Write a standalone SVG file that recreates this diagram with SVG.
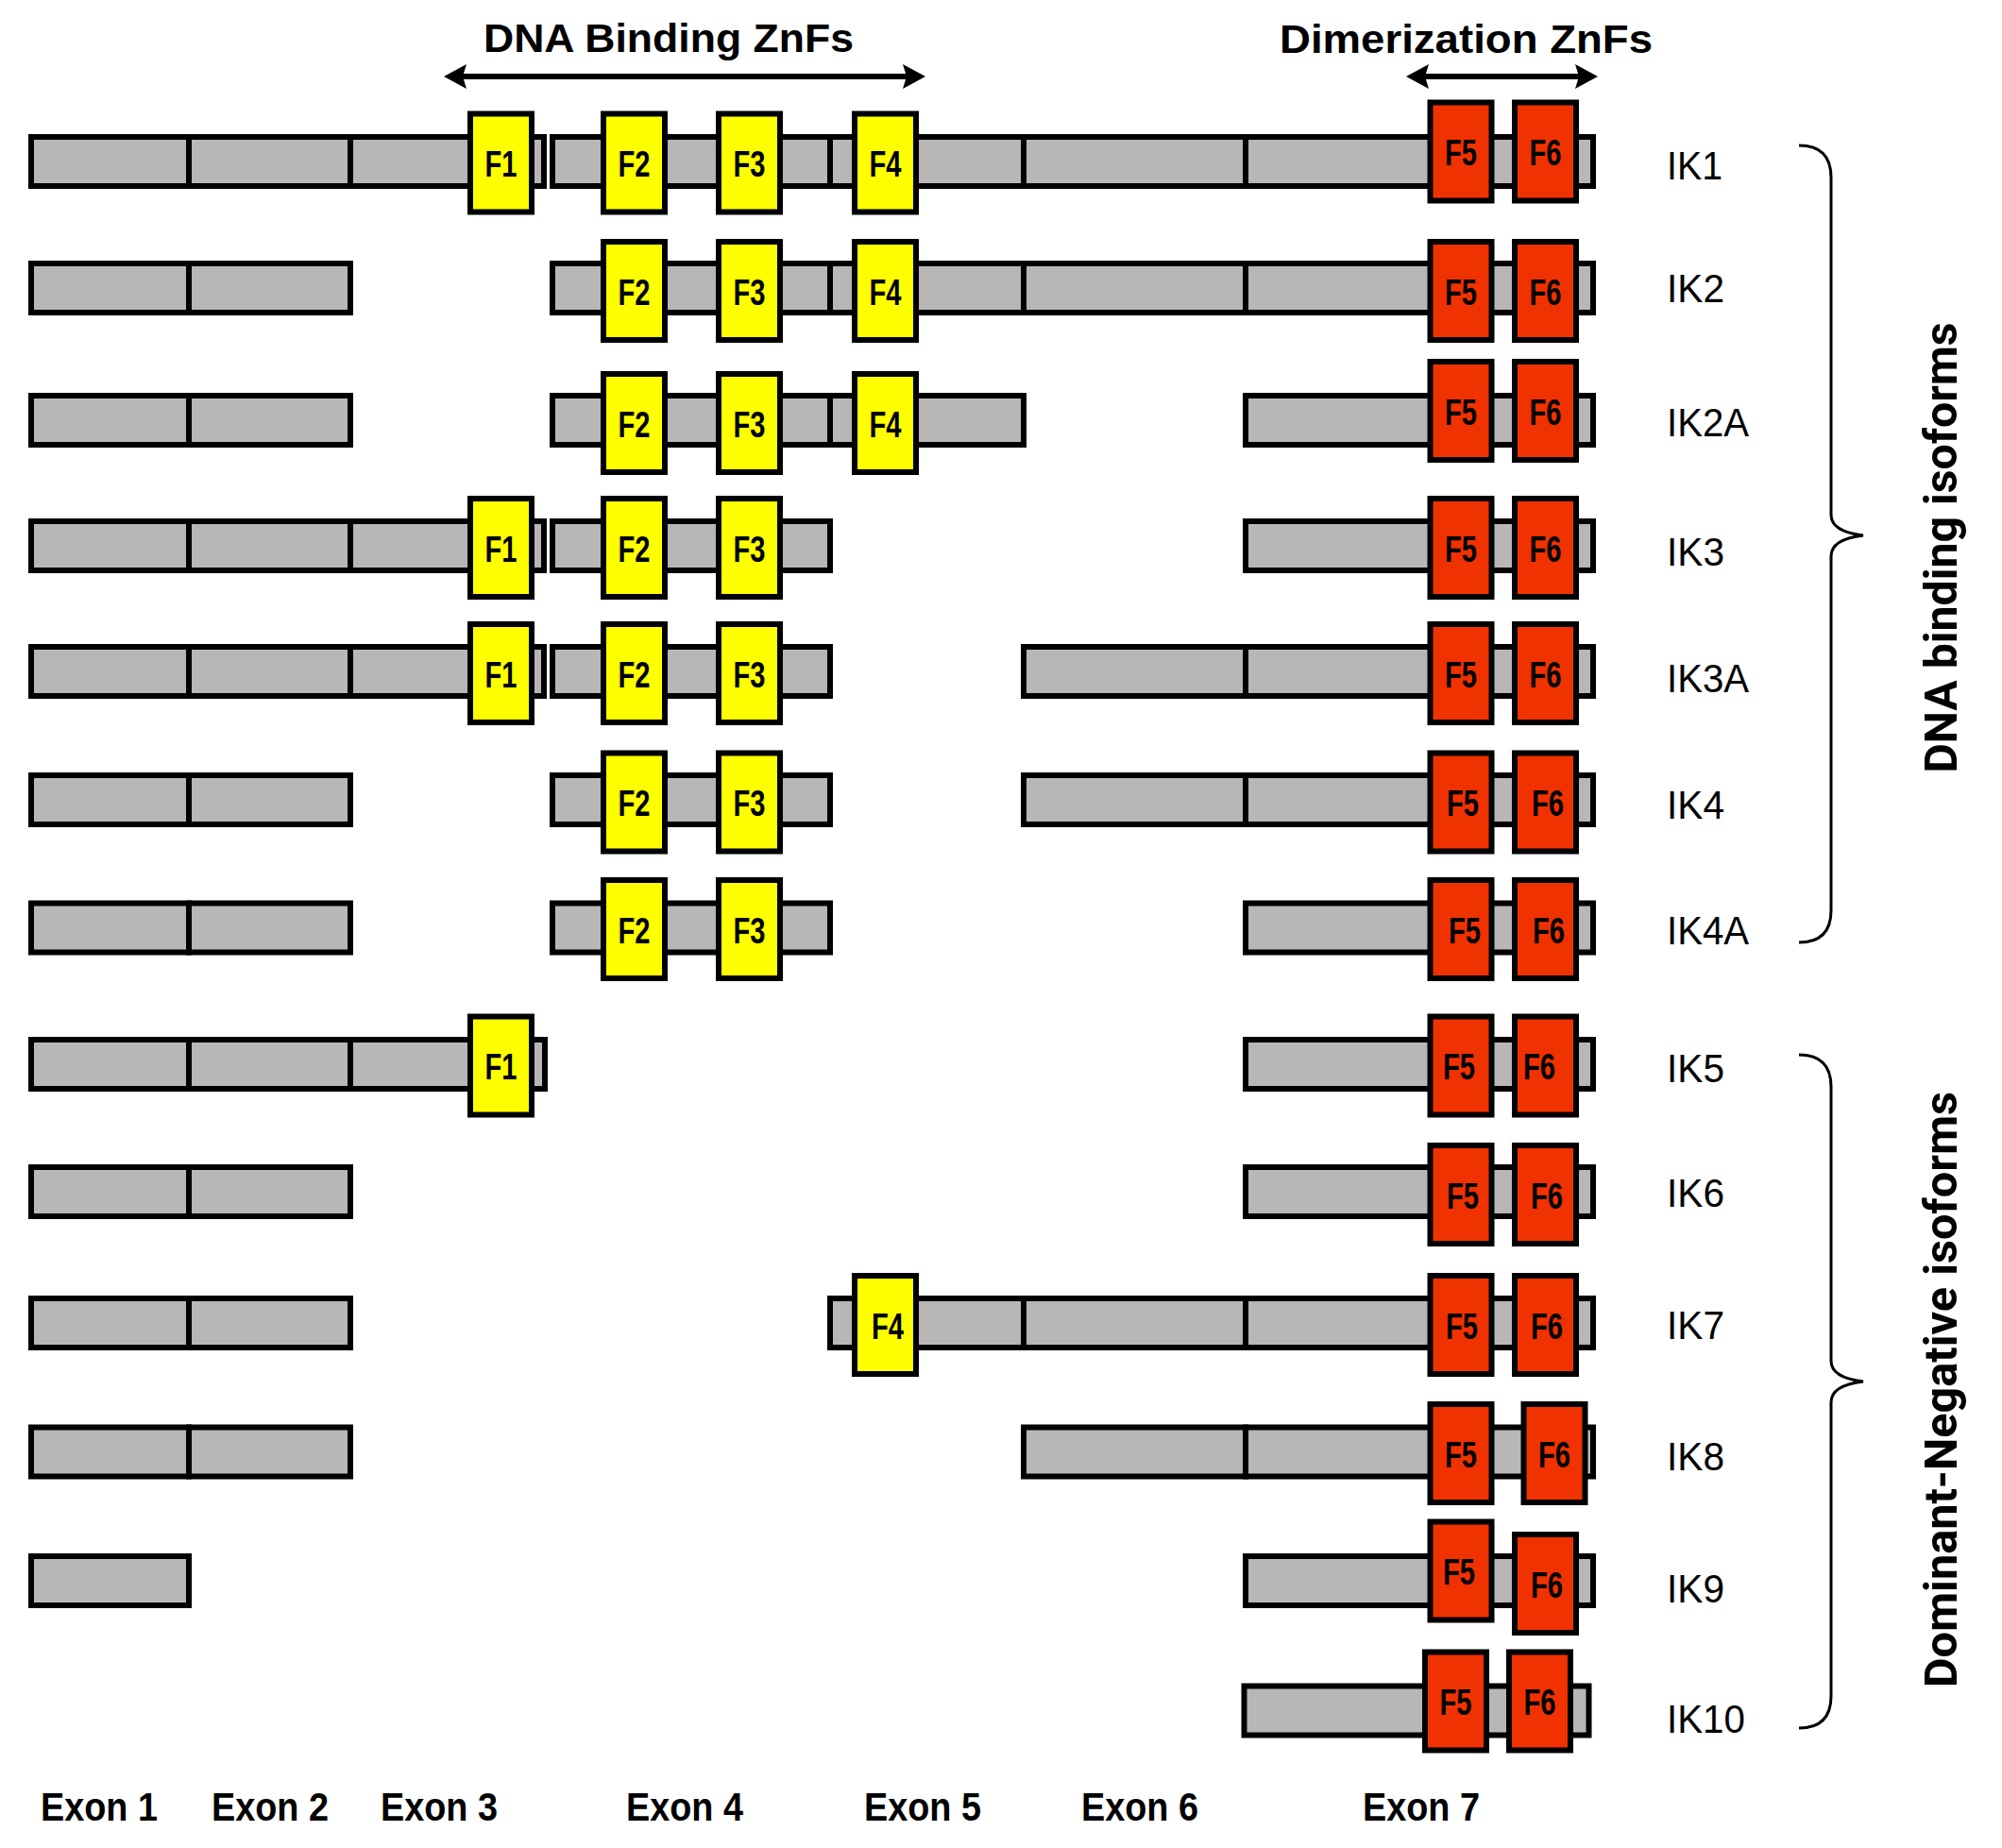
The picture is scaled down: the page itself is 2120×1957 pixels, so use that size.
<svg xmlns="http://www.w3.org/2000/svg" width="2120" height="1957" viewBox="0 0 2120 1957">
<style>
.ex{fill:#b7b7b7;stroke:#000;stroke-width:6}
.zy{fill:#ffff00;stroke:#000;stroke-width:6}
.zr{fill:#f03200;stroke:#000;stroke-width:6}
.fl{font-family:"Liberation Sans",Arial,sans-serif;font-weight:bold;font-size:39px;fill:#000;text-anchor:middle}
.lb{font-family:"Liberation Sans",Arial,sans-serif;font-size:43px;fill:#000}
.hd{font-family:"Liberation Sans",Arial,sans-serif;font-weight:bold;font-size:43px;fill:#000}
.xl{font-family:"Liberation Sans",Arial,sans-serif;font-weight:bold;font-size:43px;fill:#000}
.vt{font-family:Roboto,"Liberation Sans",sans-serif;font-weight:bold;font-size:48px;fill:#000;text-anchor:middle}
.br{fill:none;stroke:#000;stroke-width:3}
.ar{fill:none;stroke:#000;stroke-width:6}
</style>
<defs>
<marker id="ah" markerUnits="userSpaceOnUse" markerWidth="26" markerHeight="28" refX="12" refY="13" orient="auto-start-reverse" viewBox="0 0 26 26">
<path d="M0,0 L24,13 L0,26 L4,13 z" fill="#000"/>
</marker>
</defs>
<rect width="2120" height="1957" fill="#fff"/>

<g id="headings">
<text class="hd" x="512" y="55" textLength="392" lengthAdjust="spacingAndGlyphs">DNA Binding ZnFs</text>
<text class="hd" x="1355" y="56" textLength="395" lengthAdjust="spacingAndGlyphs">Dimerization ZnFs</text>
</g>

<g id="connectors">
<line class="ar" x1="482" y1="81" x2="968" y2="81" marker-start="url(#ah)" marker-end="url(#ah)"/>
<line class="ar" x1="1501" y1="81" x2="1680" y2="81" marker-start="url(#ah)" marker-end="url(#ah)"/>
</g>

<g id="IK1">
<rect class="ex" x="33" y="145" width="167" height="52"/>
<rect class="ex" x="200" y="145" width="171" height="52"/>
<rect class="ex" x="371" y="145" width="205" height="52"/>
<rect class="ex" x="585" y="145" width="294" height="52"/>
<rect class="ex" x="879" y="145" width="205" height="52"/>
<rect class="ex" x="1084" y="145" width="235" height="52"/>
<rect class="ex" x="1319" y="145" width="368" height="52"/>
<rect class="zy" x="498" y="120.5" width="65" height="104"/>
<rect class="zy" x="639" y="120.5" width="65" height="104"/>
<rect class="zy" x="761" y="120.5" width="65" height="104"/>
<rect class="zy" x="905" y="120.5" width="65" height="104"/>
<rect class="zr" x="1514.5" y="108.5" width="65" height="104"/>
<rect class="zr" x="1604" y="108.5" width="65" height="104"/>
<text class="fl" x="530.5" y="187" textLength="34" lengthAdjust="spacingAndGlyphs">F1</text>
<text class="fl" x="671.5" y="187" textLength="34" lengthAdjust="spacingAndGlyphs">F2</text>
<text class="fl" x="793.5" y="187" textLength="34" lengthAdjust="spacingAndGlyphs">F3</text>
<text class="fl" x="937.5" y="187" textLength="34" lengthAdjust="spacingAndGlyphs">F4</text>
<text class="fl" x="1547" y="175" textLength="34" lengthAdjust="spacingAndGlyphs">F5</text>
<text class="fl" x="1636.5" y="175" textLength="34" lengthAdjust="spacingAndGlyphs">F6</text>
<text class="lb" x="1765" y="190" textLength="59" lengthAdjust="spacingAndGlyphs">IK1</text>
</g>

<g id="IK2">
<rect class="ex" x="33" y="279" width="167" height="52"/>
<rect class="ex" x="200" y="279" width="171" height="52"/>
<rect class="ex" x="585" y="279" width="294" height="52"/>
<rect class="ex" x="879" y="279" width="205" height="52"/>
<rect class="ex" x="1084" y="279" width="235" height="52"/>
<rect class="ex" x="1319" y="279" width="368" height="52"/>
<rect class="zy" x="639" y="256" width="65" height="104"/>
<rect class="zy" x="761" y="256" width="65" height="104"/>
<rect class="zy" x="905" y="256" width="65" height="104"/>
<rect class="zr" x="1514.5" y="256" width="65" height="104"/>
<rect class="zr" x="1604" y="256" width="65" height="104"/>
<text class="fl" x="671.5" y="322.5" textLength="34" lengthAdjust="spacingAndGlyphs">F2</text>
<text class="fl" x="793.5" y="322.5" textLength="34" lengthAdjust="spacingAndGlyphs">F3</text>
<text class="fl" x="937.5" y="322.5" textLength="34" lengthAdjust="spacingAndGlyphs">F4</text>
<text class="fl" x="1547" y="322.5" textLength="34" lengthAdjust="spacingAndGlyphs">F5</text>
<text class="fl" x="1636.5" y="322.5" textLength="34" lengthAdjust="spacingAndGlyphs">F6</text>
<text class="lb" x="1765" y="320" textLength="61" lengthAdjust="spacingAndGlyphs">IK2</text>
</g>

<g id="IK2A">
<rect class="ex" x="33" y="419" width="167" height="52"/>
<rect class="ex" x="200" y="419" width="171" height="52"/>
<rect class="ex" x="585" y="419" width="294" height="52"/>
<rect class="ex" x="879" y="419" width="205" height="52"/>
<rect class="ex" x="1319" y="419" width="368" height="52"/>
<rect class="zy" x="639" y="396" width="65" height="104"/>
<rect class="zy" x="761" y="396" width="65" height="104"/>
<rect class="zy" x="905" y="396" width="65" height="104"/>
<rect class="zr" x="1514.5" y="383" width="65" height="104"/>
<rect class="zr" x="1604" y="383" width="65" height="104"/>
<text class="fl" x="671.5" y="462.5" textLength="34" lengthAdjust="spacingAndGlyphs">F2</text>
<text class="fl" x="793.5" y="462.5" textLength="34" lengthAdjust="spacingAndGlyphs">F3</text>
<text class="fl" x="937.5" y="462.5" textLength="34" lengthAdjust="spacingAndGlyphs">F4</text>
<text class="fl" x="1547" y="449.5" textLength="34" lengthAdjust="spacingAndGlyphs">F5</text>
<text class="fl" x="1636.5" y="449.5" textLength="34" lengthAdjust="spacingAndGlyphs">F6</text>
<text class="lb" x="1765" y="462" textLength="87" lengthAdjust="spacingAndGlyphs">IK2A</text>
</g>

<g id="IK3">
<rect class="ex" x="33" y="552" width="167" height="52"/>
<rect class="ex" x="200" y="552" width="171" height="52"/>
<rect class="ex" x="371" y="552" width="205" height="52"/>
<rect class="ex" x="585" y="552" width="294" height="52"/>
<rect class="ex" x="1319" y="552" width="368" height="52"/>
<rect class="zy" x="498" y="528" width="65" height="104"/>
<rect class="zy" x="639" y="528" width="65" height="104"/>
<rect class="zy" x="761" y="528" width="65" height="104"/>
<rect class="zr" x="1514.5" y="528" width="65" height="104"/>
<rect class="zr" x="1604" y="528" width="65" height="104"/>
<text class="fl" x="530.5" y="594.5" textLength="34" lengthAdjust="spacingAndGlyphs">F1</text>
<text class="fl" x="671.5" y="594.5" textLength="34" lengthAdjust="spacingAndGlyphs">F2</text>
<text class="fl" x="793.5" y="594.5" textLength="34" lengthAdjust="spacingAndGlyphs">F3</text>
<text class="fl" x="1547" y="594.5" textLength="34" lengthAdjust="spacingAndGlyphs">F5</text>
<text class="fl" x="1636.5" y="594.5" textLength="34" lengthAdjust="spacingAndGlyphs">F6</text>
<text class="lb" x="1765" y="599" textLength="61" lengthAdjust="spacingAndGlyphs">IK3</text>
</g>

<g id="IK3A">
<rect class="ex" x="33" y="685" width="167" height="52"/>
<rect class="ex" x="200" y="685" width="171" height="52"/>
<rect class="ex" x="371" y="685" width="205" height="52"/>
<rect class="ex" x="585" y="685" width="294" height="52"/>
<rect class="ex" x="1084" y="685" width="235" height="52"/>
<rect class="ex" x="1319" y="685" width="368" height="52"/>
<rect class="zy" x="498" y="661" width="65" height="104"/>
<rect class="zy" x="639" y="661" width="65" height="104"/>
<rect class="zy" x="761" y="661" width="65" height="104"/>
<rect class="zr" x="1514.5" y="661" width="65" height="104"/>
<rect class="zr" x="1604" y="661" width="65" height="104"/>
<text class="fl" x="530.5" y="727.5" textLength="34" lengthAdjust="spacingAndGlyphs">F1</text>
<text class="fl" x="671.5" y="727.5" textLength="34" lengthAdjust="spacingAndGlyphs">F2</text>
<text class="fl" x="793.5" y="727.5" textLength="34" lengthAdjust="spacingAndGlyphs">F3</text>
<text class="fl" x="1547" y="727.5" textLength="34" lengthAdjust="spacingAndGlyphs">F5</text>
<text class="fl" x="1636.5" y="727.5" textLength="34" lengthAdjust="spacingAndGlyphs">F6</text>
<text class="lb" x="1765" y="733" textLength="87" lengthAdjust="spacingAndGlyphs">IK3A</text>
</g>

<g id="IK4">
<rect class="ex" x="33" y="821" width="167" height="52"/>
<rect class="ex" x="200" y="821" width="171" height="52"/>
<rect class="ex" x="585" y="821" width="294" height="52"/>
<rect class="ex" x="1084" y="821" width="235" height="52"/>
<rect class="ex" x="1319" y="821" width="368" height="52"/>
<rect class="zy" x="639" y="797.5" width="65" height="104"/>
<rect class="zy" x="761" y="797.5" width="65" height="104"/>
<rect class="zr" x="1514.5" y="797.5" width="65" height="104"/>
<rect class="zr" x="1604" y="797.5" width="65" height="104"/>
<text class="fl" x="671.5" y="864" textLength="34" lengthAdjust="spacingAndGlyphs">F2</text>
<text class="fl" x="793.5" y="864" textLength="34" lengthAdjust="spacingAndGlyphs">F3</text>
<text class="fl" x="1549" y="864" textLength="34" lengthAdjust="spacingAndGlyphs">F5</text>
<text class="fl" x="1639" y="864" textLength="34" lengthAdjust="spacingAndGlyphs">F6</text>
<text class="lb" x="1765" y="867" textLength="61" lengthAdjust="spacingAndGlyphs">IK4</text>
</g>

<g id="IK4A">
<rect class="ex" x="33" y="956.5" width="167" height="52"/>
<rect class="ex" x="200" y="956.5" width="171" height="52"/>
<rect class="ex" x="585" y="956.5" width="294" height="52"/>
<rect class="ex" x="1319" y="956.5" width="368" height="52"/>
<rect class="zy" x="639" y="932" width="65" height="104"/>
<rect class="zy" x="761" y="932" width="65" height="104"/>
<rect class="zr" x="1514.5" y="932" width="65" height="104"/>
<rect class="zr" x="1604" y="932" width="65" height="104"/>
<text class="fl" x="671.5" y="998.5" textLength="34" lengthAdjust="spacingAndGlyphs">F2</text>
<text class="fl" x="793.5" y="998.5" textLength="34" lengthAdjust="spacingAndGlyphs">F3</text>
<text class="fl" x="1551" y="998.5" textLength="34" lengthAdjust="spacingAndGlyphs">F5</text>
<text class="fl" x="1640" y="998.5" textLength="34" lengthAdjust="spacingAndGlyphs">F6</text>
<text class="lb" x="1765" y="1000" textLength="87" lengthAdjust="spacingAndGlyphs">IK4A</text>
</g>

<g id="IK5">
<rect class="ex" x="33" y="1101" width="167" height="52"/>
<rect class="ex" x="200" y="1101" width="171" height="52"/>
<rect class="ex" x="371" y="1101" width="206" height="52"/>
<rect class="ex" x="1319" y="1101" width="368" height="52"/>
<rect class="zy" x="498" y="1076.5" width="65" height="104"/>
<rect class="zr" x="1514.5" y="1076.5" width="65" height="104"/>
<rect class="zr" x="1604" y="1076.5" width="65" height="104"/>
<text class="fl" x="530.5" y="1143" textLength="34" lengthAdjust="spacingAndGlyphs">F1</text>
<text class="fl" x="1545" y="1143" textLength="34" lengthAdjust="spacingAndGlyphs">F5</text>
<text class="fl" x="1630" y="1143" textLength="34" lengthAdjust="spacingAndGlyphs">F6</text>
<text class="lb" x="1765" y="1146" textLength="61" lengthAdjust="spacingAndGlyphs">IK5</text>
</g>

<g id="IK6">
<rect class="ex" x="33" y="1236" width="167" height="52"/>
<rect class="ex" x="200" y="1236" width="171" height="52"/>
<rect class="ex" x="1319" y="1236" width="368" height="52"/>
<rect class="zr" x="1514.5" y="1213" width="65" height="104"/>
<rect class="zr" x="1604" y="1213" width="65" height="104"/>
<text class="fl" x="1549" y="1279.5" textLength="34" lengthAdjust="spacingAndGlyphs">F5</text>
<text class="fl" x="1638" y="1279.5" textLength="34" lengthAdjust="spacingAndGlyphs">F6</text>
<text class="lb" x="1765" y="1278" textLength="61" lengthAdjust="spacingAndGlyphs">IK6</text>
</g>

<g id="IK7">
<rect class="ex" x="33" y="1375" width="167" height="52"/>
<rect class="ex" x="200" y="1375" width="171" height="52"/>
<rect class="ex" x="879" y="1375" width="205" height="52"/>
<rect class="ex" x="1084" y="1375" width="235" height="52"/>
<rect class="ex" x="1319" y="1375" width="368" height="52"/>
<rect class="zy" x="905" y="1351" width="65" height="104"/>
<rect class="zr" x="1514.5" y="1351" width="65" height="104"/>
<rect class="zr" x="1604" y="1351" width="65" height="104"/>
<text class="fl" x="940" y="1417.5" textLength="34" lengthAdjust="spacingAndGlyphs">F4</text>
<text class="fl" x="1548" y="1417.5" textLength="34" lengthAdjust="spacingAndGlyphs">F5</text>
<text class="fl" x="1638" y="1417.5" textLength="34" lengthAdjust="spacingAndGlyphs">F6</text>
<text class="lb" x="1765" y="1418" textLength="61" lengthAdjust="spacingAndGlyphs">IK7</text>
</g>

<g id="IK8">
<rect class="ex" x="33" y="1511.5" width="167" height="52"/>
<rect class="ex" x="200" y="1511.5" width="171" height="52"/>
<rect class="ex" x="1084" y="1511.5" width="235" height="52"/>
<rect class="ex" x="1319" y="1511.5" width="368" height="52"/>
<rect class="zr" x="1514.5" y="1487" width="65" height="104"/>
<rect class="zr" x="1613.5" y="1487" width="65" height="104"/>
<text class="fl" x="1547" y="1553.5" textLength="34" lengthAdjust="spacingAndGlyphs">F5</text>
<text class="fl" x="1646" y="1553.5" textLength="34" lengthAdjust="spacingAndGlyphs">F6</text>
<text class="lb" x="1765" y="1557" textLength="61" lengthAdjust="spacingAndGlyphs">IK8</text>
</g>

<g id="IK9">
<rect class="ex" x="33" y="1648" width="167" height="52"/>
<rect class="ex" x="1319" y="1648" width="368" height="52"/>
<rect class="zr" x="1514.5" y="1611.5" width="65" height="104"/>
<rect class="zr" x="1604" y="1625" width="65" height="104"/>
<text class="fl" x="1545" y="1678" textLength="34" lengthAdjust="spacingAndGlyphs">F5</text>
<text class="fl" x="1638" y="1691.5" textLength="34" lengthAdjust="spacingAndGlyphs">F6</text>
<text class="lb" x="1765" y="1697" textLength="61" lengthAdjust="spacingAndGlyphs">IK9</text>
</g>

<g id="IK10">
<rect class="ex" x="1317.5" y="1785.5" width="365" height="52"/>
<rect class="zr" x="1509" y="1749.5" width="65" height="104"/>
<rect class="zr" x="1598" y="1749.5" width="65" height="104"/>
<text class="fl" x="1541.5" y="1816" textLength="34" lengthAdjust="spacingAndGlyphs">F5</text>
<text class="fl" x="1630.5" y="1816" textLength="34" lengthAdjust="spacingAndGlyphs">F6</text>
<text class="lb" x="1765" y="1835" textLength="83" lengthAdjust="spacingAndGlyphs">IK10</text>
</g>

<g id="exon-labels">
<text class="xl" x="43" y="1928" textLength="124" lengthAdjust="spacingAndGlyphs">Exon 1</text>
<text class="xl" x="224" y="1928" textLength="124" lengthAdjust="spacingAndGlyphs">Exon 2</text>
<text class="xl" x="403" y="1928" textLength="124" lengthAdjust="spacingAndGlyphs">Exon 3</text>
<text class="xl" x="663" y="1928" textLength="124" lengthAdjust="spacingAndGlyphs">Exon 4</text>
<text class="xl" x="915" y="1928" textLength="124" lengthAdjust="spacingAndGlyphs">Exon 5</text>
<text class="xl" x="1145" y="1928" textLength="124" lengthAdjust="spacingAndGlyphs">Exon 6</text>
<text class="xl" x="1443" y="1928" textLength="124" lengthAdjust="spacingAndGlyphs">Exon 7</text>
</g>

<g id="group-dna-binding">
<path class="br" d="M1905,154 Q1939,154 1939,188 L1939,545 Q1939,563 1973,567 Q1939,571 1939,589 L1939,964 Q1939,998 1905,998"/>
<text class="vt" x="2072" y="580" transform="rotate(-90 2072 580)" textLength="477" lengthAdjust="spacingAndGlyphs">DNA binding isoforms</text>
</g>

<g id="group-dominant-negative">
<path class="br" d="M1905,1117 Q1939,1117 1939,1151 L1939,1441 Q1939,1459 1973,1463 Q1939,1467 1939,1485 L1939,1796 Q1939,1830 1905,1830"/>
<text class="vt" x="2072" y="1471.5" transform="rotate(-90 2072 1471.5)" textLength="631" lengthAdjust="spacingAndGlyphs">Dominant-Negative isoforms</text>
</g>
</svg>
